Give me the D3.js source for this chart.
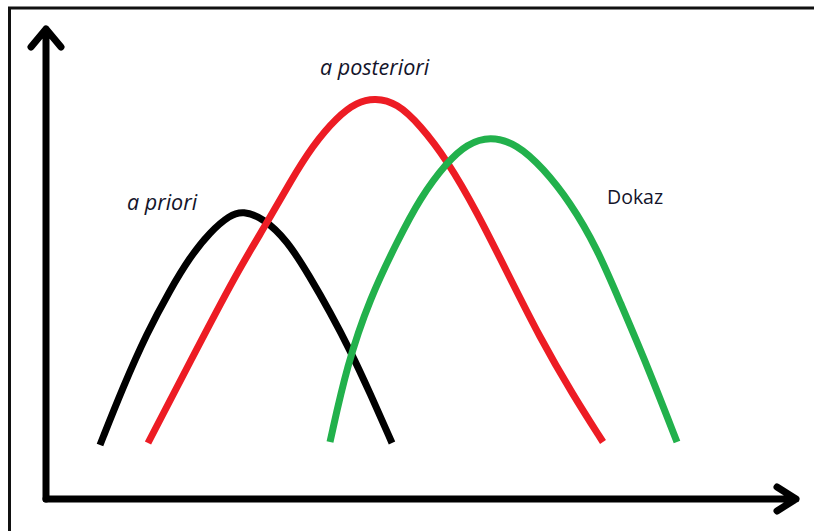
<!DOCTYPE html>
<html>
<head>
<meta charset="utf-8">
<script src="https://cdn.jsdelivr.net/npm/d3@7"></script>
<style>
	body { margin: 0; background: #fff; }
	svg { display: block; }
	.curve { fill: none; stroke-width: 7; stroke-linecap: butt; stroke-linejoin: round; }
	.axis { fill: none; stroke: #000; stroke-width: 7; stroke-linecap: round; stroke-linejoin: round; }
	.lbl { font-family: "Open Sans", sans-serif; fill: #14142a; }
</style>
</head>
<body>
<div id="chart"></div>
<script>
var WIDTH = 814;
var HEIGHT = 531;

// curve names, as written next to them
var names = ['a priori', 'a posteriori', 'Dokaz'];

// points, [x, y] in axis units
var priori = [
	[10.8, 10.8], [15.4, 22.4], [20.2, 33.2], [24.8, 41.8], [28.8, 48.4],
	[32.8, 53.4], [36.8, 56.8], [39.4, 57.6], [43.4, 56.2], [48.2, 51.8],
	[52.8, 44.4], [56.8, 37.4], [60.8, 29.8], [64.8, 21.2], [69.2, 11.2]
];
var posteriori = [
	[20.4, 11.2], [28.8, 27.4], [38.2, 45.4], [44.2, 55.2], [48.8, 63.4],
	[53.4, 70.8], [58.2, 76.4], [62.2, 79.4], [65.8, 80.2], [70.2, 79.2],
	[74.8, 74.8], [80.2, 67.8], [86.2, 57.4], [92.2, 45.4], [98.8, 32.2],
	[105.4, 20.8], [111.4, 11.4]
];
var dokaz = [
	[56.8, 11.4], [60.2, 26.8], [64.8, 40.2], [70.2, 51.4], [74.8, 60.2],
	[80.2, 67.4], [84.2, 71.0], [88.8, 72.6], [94.2, 71.0], [99.4, 66.2],
	[104.8, 59.4], [110.2, 50.2], [114.8, 39.4], [120.2, 26.8], [126.2, 11.4]
];

var xMax = 150;
var yMax = 94;

var colors = ['#000000', '#ed1c24', '#22b14c'];

function makeSVG() {
	var svg = d3.select('#chart').append('svg')
		.attr('width', WIDTH)
		.attr('height', HEIGHT);
	return svg;
}

function draw() {
	var svg = makeSVG();

	var x = d3.scaleLinear().domain([0, xMax]).range([46, 796]);
	var y = d3.scaleLinear().domain([0, yMax]).range([499, 29]);

	// frame (open on the right and bottom)
	svg.append('path')
		.attr('d', 'M 9.5,' + (HEIGHT + 5) + ' L 9.5,8 L ' + (WIDTH + 5) + ',8')
		.attr('fill', 'none')
		.attr('stroke', '#111')
		.attr('stroke-width', 3);

	var x0 = x(0), y0 = y(0);
	var xEnd = x(xMax), yEnd = y(yMax);

	// axes with arrow heads
	svg.append('path')
		.attr('class', 'axis')
		.attr('d', 'M ' + x0 + ',' + y0 + ' L ' + x0 + ',' + yEnd +
			' M ' + (x0 - 15) + ',' + (yEnd + 18) + ' L ' + x0 + ',' + yEnd + ' L ' + (x0 + 15) + ',' + (yEnd + 18));

	svg.append('path')
		.attr('class', 'axis')
		.attr('d', 'M ' + x0 + ',' + y0 + ' L ' + xEnd + ',' + y0 +
			' M ' + (xEnd - 19) + ',' + (y0 - 12) + ' L ' + xEnd + ',' + y0 + ' L ' + (xEnd - 19) + ',' + (y0 + 12));

	var line = d3.line()
		.x(function(d) { return x(d[0]); })
		.y(function(d) { return y(d[1]); })
		.curve(d3.curveBasis);

	var series = [priori, posteriori, dokaz];

	svg.selectAll('path.curve')
		.data(series)
		.enter().append('path')
		.attr('class', 'curve')
		.attr('stroke', function(d, i) { return colors[i]; })
		.attr('d', line);

	// labels are placed from each curve's peak
	var offsets = [[-116, -1], [-55, -23], [117, 68]];
	var styles = ['italic', 'italic', 'normal'];
	var sizes = [21.5, 21.5, 19.5];

	series.forEach(function(s, i) {
		var peak = d3.greatest(s, function(d) { return d[1]; });
		svg.append('text')
			.attr('class', 'lbl')
			.attr('x', x(peak[0]) + offsets[i][0])
			.attr('y', y(peak[1]) + offsets[i][1])
			.style('font-style', styles[i])
			.style('font-size', sizes[i] + 'px')
			.text(names[i]);
	});
}

draw();
</script>
</body>
</html>
